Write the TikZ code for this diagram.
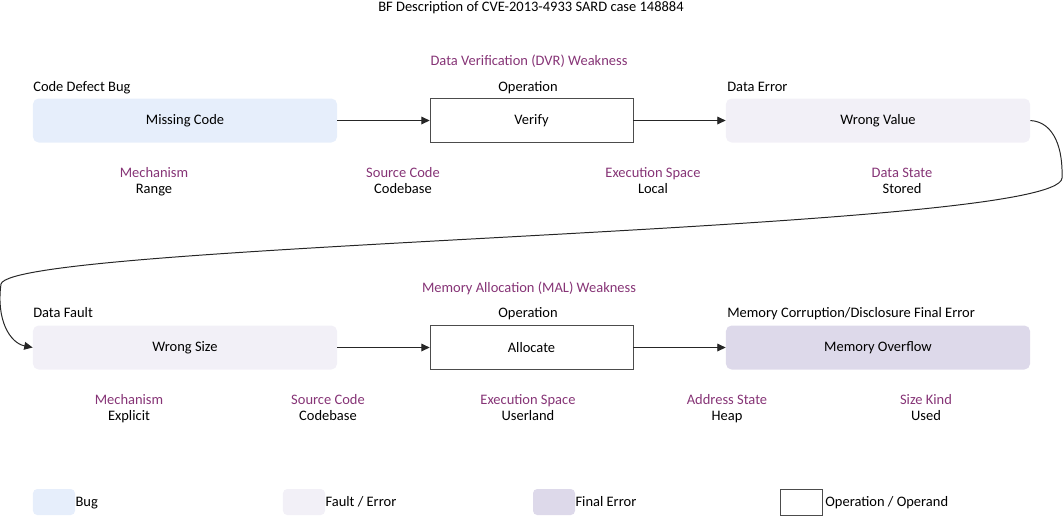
\documentclass[tikz,border=0pt]{standalone}
\usepackage{fontspec}
\setmainfont{Carlito}
\usetikzlibrary{arrows.meta}
\definecolor{bugcol}{RGB}{230,238,251}
\definecolor{faultcol}{RGB}{242,240,247}
\definecolor{finalcol}{RGB}{221,217,234}
\definecolor{attrcol}{RGB}{134,52,118}
\tikzset{
  box/.style={minimum width=7.6cm,minimum height=1.1cm,rounded corners=4pt},
  bugbox/.style={box,fill=bugcol},
  faultbox/.style={box,fill=faultcol},
  finalbox/.style={box,fill=finalcol},
  opbox/.style={minimum width=5.075cm,minimum height=1.1cm,draw=black!70,fill=white},
  lbl/.style={anchor=base west,inner sep=0pt},
  head/.style={anchor=base,inner sep=0pt},
  attr/.style={anchor=north,align=center,inner sep=0pt},
  swatch/.style={minimum width=1.05cm,minimum height=0.65cm,rounded corners=3pt,inner sep=0pt},
  flow/.style={-{Triangle[length=6pt,width=5.5pt]},black!85,line width=0.7pt},
}
\begin{document}
\begin{tikzpicture}[x=0.025cm,y=-0.025cm,font=\fontsize{10.3}{12}\selectfont]
\useasboundingbox (0,0) rectangle (1063,515);
\node[head] (title) at (531,11.5) {BF Description of CVE-2013-4933 SARD case 148884};
% first weakness
\node[head,text=attrcol] (dvr) at (529,65.5) {Data Verification (DVR) Weakness};
\node[lbl] (l1) at (33,91.5) {Code Defect Bug};
\node[head] (l2) at (528,91.5) {Operation};
\node[lbl] (l3) at (727,91.5) {Data Error};
\node[bugbox] (mc) at (185,120.5) {Missing Code};
\node[opbox] (vf) at (531.5,120.5) {Verify};
\node[faultbox] (wv) at (878,120.5) {Wrong Value};
\draw[flow] (mc) -- (vf);
\draw[flow] (vf) -- (wv);
\node[attr] (a1) at (154,165) {\strut\textcolor{attrcol}{Mechanism}\\Range};
\node[attr] (a2) at (403,165) {\strut\textcolor{attrcol}{Source Code}\\Codebase};
\node[attr] (a3) at (653,165) {\strut\textcolor{attrcol}{Execution Space}\\Local};
\node[attr] (a4) at (902,165) {\strut\textcolor{attrcol}{Data State}\\Stored};
% second weakness
\node[head,text=attrcol] (mal) at (529,292.5) {Memory Allocation (MAL) Weakness};
\node[lbl] (l4) at (33,317.5) {Data Fault};
\node[head] (l5) at (528,317.5) {Operation};
\node[lbl] (l6) at (727,317.5) {Memory Corruption/Disclosure Final Error};
\node[faultbox] (ws) at (185,347.5) {Wrong Size};
\node[opbox] (al) at (531.5,347.5) {Allocate};
\node[finalbox] (mo) at (878,347.5) {Memory Overflow};
\draw[flow] (ws) -- (al);
\draw[flow] (al) -- (mo);
\draw[flow] (wv.east) .. controls (1055,122) and (1063,150) .. (1062,178)
  .. controls (1060,232) and (12,242) .. (1,284)
  .. controls (-4,320) and (10,343) .. (ws.west);
\node[attr] (b1) at (129,392) {\strut\textcolor{attrcol}{Mechanism}\\Explicit};
\node[attr] (b2) at (328,392) {\strut\textcolor{attrcol}{Source Code}\\Codebase};
\node[attr] (b3) at (528,392) {\strut\textcolor{attrcol}{Execution Space}\\Userland};
\node[attr] (b4) at (727,392) {\strut\textcolor{attrcol}{Address State}\\Heap};
\node[attr] (b5) at (926,392) {\strut\textcolor{attrcol}{Size Kind}\\Used};
% legend
\node[swatch,fill=bugcol] (k1) at (54,502) {};
\node[lbl] (t1) at ([yshift=-3.4pt]k1.east) {Bug};
\node[swatch,fill=faultcol] (k2) at (304,502) {};
\node[lbl] (t2) at ([yshift=-3.4pt]k2.east) {Fault / Error};
\node[swatch,fill=finalcol] (k3) at (554,502) {};
\node[lbl] (t3) at ([yshift=-3.4pt]k3.east) {Final Error};
\node[swatch,rounded corners=0pt,draw=black!70] (k4) at (801,502) {};
\node[lbl] (t4) at ([xshift=2pt,yshift=-3.4pt]k4.east) {Operation / Operand};
\end{tikzpicture}
\end{document}
